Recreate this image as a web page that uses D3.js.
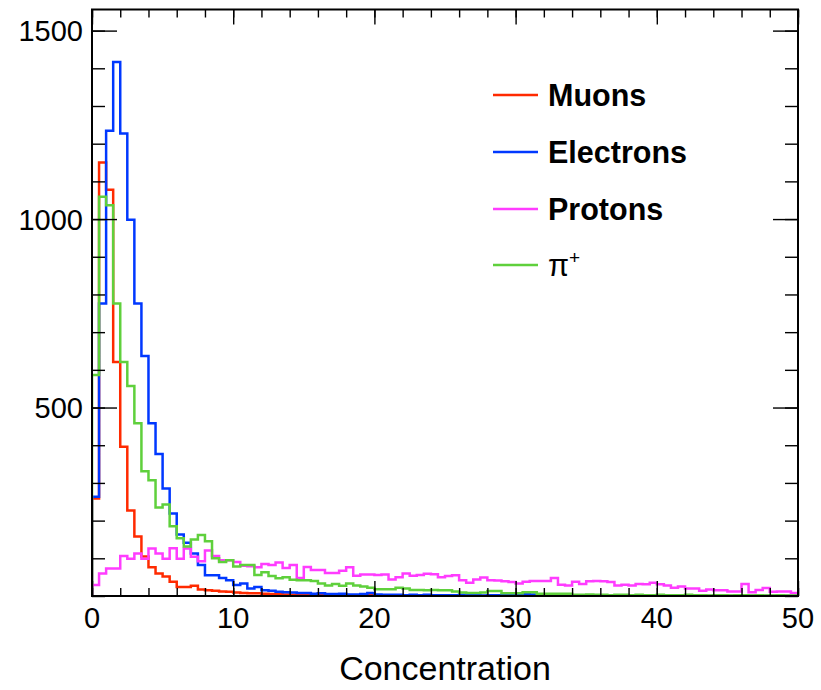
<!DOCTYPE html>
<html>
<head>
<meta charset="utf-8">
<script src="https://cdn.jsdelivr.net/npm/d3@7"></script>
<style>
  html, body { margin: 0; padding: 0; background: #ffffff; }
  svg { display: block; font-family: "Liberation Sans", Arial, Helvetica, sans-serif; }
</style>
</head>
<body>
<svg id="chart" width="821" height="690"></svg>
<script>
// Histogram binning: 100 bins of width 0.5 over [0, 50]
const binWidth = 0.5;
const xRange = [0, 50];
const yMax = 1556;

// Bin contents per particle species
const muons = [
  259, 1150, 1078, 621, 396, 227, 158, 105, 76, 60,
  52, 38, 24, 24, 27, 17, 15, 14, 12, 11,
  9, 8, 7, 7, 6, 5, 5, 4, 3, 4,
  2, 3, 6, 2, 1, 1, 1, 0, 1, 5,
  0, 1, 0, 0, 1, 0, 0, 0, 0, 0,
  0, 0, 0, 0, 0, 0, 0, 0, 0, 0,
  0, 0, 0, 0, 0, 0, 0, 0, 0, 0,
  0, 0, 0, 0, 0, 0, 0, 0, 0, 0,
  0, 0, 0, 0, 0, 0, 0, 0, 0, 0,
  0, 0, 0, 0, 0, 0, 0, 0, 0, 0
];
const electrons = [
  263, 776, 1234, 1417, 1227, 998, 776, 637, 458, 377,
  285, 219, 163, 141, 113, 82, 55, 55, 48, 42,
  29, 33, 20, 24, 15, 14, 11, 10, 9, 8,
  8, 6, 7, 5, 5, 6, 4, 4, 5, 8,
  4, 3, 3, 3, 2, 3, 2, 3, 2, 2,
  2, 2, 3, 2, 2, 1, 2, 2, 3, 2,
  3, 5, 4, 2, 2, 2, 2, 2, 0, 0,
  0, 0, 0, 0, 0, 0, 0, 0, 0, 0,
  0, 0, 0, 0, 0, 0, 0, 0, 0, 0,
  0, 0, 0, 0, 0, 0, 0, 0, 0, 0
];
const protons = [
  29, 60, 73, 73, 106, 99, 113, 99, 126, 113,
  99, 127, 99, 126, 104, 92, 121, 106, 95, 95,
  90, 80, 79, 76, 85, 82, 89, 74, 82, 48,
  77, 69, 69, 61, 61, 67, 76, 54, 57, 57,
  56, 57, 44, 50, 60, 54, 56, 59, 58, 50,
  53, 55, 42, 35, 44, 49, 42, 41, 39, 37,
  33, 38, 40, 40, 40, 48, 30, 28, 38, 32,
  39, 40, 39, 37, 28, 30, 28, 32, 31, 35,
  31, 28, 22, 25, 20, 20, 14, 17, 15, 15,
  12, 12, 32, 10, 16, 21, 11, 12, 12, 8
];
const pions = [
  586, 1059, 1037, 776, 621, 557, 458, 331, 307, 235,
  243, 185, 153, 131, 150, 162, 145, 100, 90, 95,
  78, 82, 82, 56, 63, 53, 47, 50, 43, 42,
  42, 40, 33, 28, 32, 27, 33, 28, 25, 22,
  18, 18, 18, 22, 20, 16, 16, 15, 16, 15,
  15, 12, 9, 8, 8, 9, 13, 13, 7, 7,
  7, 10, 10, 6, 6, 6, 6, 6, 3, 3,
  4, 3, 3, 2, 3, 3, 2, 3, 2, 2,
  3, 2, 2, 2, 3, 2, 2, 1, 2, 2,
  1, 2, 2, 1, 2, 1, 1, 2, 1, 1
];

const seriesNames = ["Muons", "Electrons", "Protons", "\u03c0+"];
const seriesColors = ["#ff2a00", "#0038ff", "#ff3cff", "#5fd03c"];
const seriesData = [muons, electrons, protons, pions];

const xTickValues = [0, 10, 20, 30, 40, 50];
const yTickValues = [500, 1000, 1500];
const xTitle = "Concentration";

// Layout
const frame = { left: 92, right: 798, top: 9.5, bottom: 596 };
const svg = d3.select("#chart");

const x = d3.scaleLinear().domain(xRange).range([frame.left, frame.right]);
const y = d3.scaleLinear().domain([0, yMax]).range([frame.bottom, frame.top]);

// Histogram outlines (step lines), drawn in legend order
const line = d3.line()
  .x(d => x(d[0]))
  .y(d => y(d[1]))
  .curve(d3.curveStepAfter);

svg.append("clipPath").attr("id", "plotClip")
  .append("rect")
  .attr("x", frame.left).attr("y", frame.top)
  .attr("width", frame.right - frame.left)
  .attr("height", frame.bottom - frame.top);

const plot = svg.append("g").attr("clip-path", "url(#plotClip)");

seriesData.forEach((vals, s) => {
  const pts = [[xRange[0], 0]];
  vals.forEach((v, i) => pts.push([xRange[0] + i * binWidth, v]));
  pts.push([xRange[1], vals[vals.length - 1]]);
  plot.append("path")
    .attr("d", line(pts))
    .attr("fill", "none")
    .attr("stroke", seriesColors[s])
    .attr("stroke-width", 2.5)
    .attr("stroke-linejoin", "miter");
});

// Axes with ticks on all four sides
const xMinor = d3.range(0, 50.001, 2);
const yMinor = d3.range(0, yMax, 100);

const axisStyle = g => {
  g.select(".domain").remove();
  g.selectAll("line").attr("stroke", "#000").attr("stroke-width", 1.4);
};

// bottom minor + major
svg.append("g").attr("transform", `translate(0,${frame.bottom})`)
  .call(d3.axisTop(x).tickValues(xMinor).tickSize(8).tickFormat(""))
  .call(axisStyle);
svg.append("g").attr("transform", `translate(0,${frame.bottom})`)
  .call(d3.axisTop(x).tickValues(xTickValues).tickSize(15).tickFormat(""))
  .call(axisStyle);
// top
svg.append("g").attr("transform", `translate(0,${frame.top})`)
  .call(d3.axisBottom(x).tickValues(xMinor).tickSize(8).tickFormat(""))
  .call(axisStyle);
svg.append("g").attr("transform", `translate(0,${frame.top})`)
  .call(d3.axisBottom(x).tickValues(xTickValues).tickSize(15).tickFormat(""))
  .call(axisStyle);
// left
svg.append("g").attr("transform", `translate(${frame.left},0)`)
  .call(d3.axisRight(y).tickValues(yMinor).tickSize(13).tickFormat(""))
  .call(axisStyle);
svg.append("g").attr("transform", `translate(${frame.left},0)`)
  .call(d3.axisRight(y).tickValues(yTickValues).tickSize(25).tickFormat(""))
  .call(axisStyle);
// right
svg.append("g").attr("transform", `translate(${frame.right},0)`)
  .call(d3.axisLeft(y).tickValues(yMinor).tickSize(13).tickFormat(""))
  .call(axisStyle);
svg.append("g").attr("transform", `translate(${frame.right},0)`)
  .call(d3.axisLeft(y).tickValues(yTickValues).tickSize(25).tickFormat(""))
  .call(axisStyle);

// Tick labels
svg.append("g").selectAll("text").data(xTickValues).join("text")
  .attr("x", d => x(d))
  .attr("y", 628)
  .attr("text-anchor", "middle")
  .attr("font-size", 29)
  .attr("fill", "#000")
  .text(d => d);

svg.append("g").selectAll("text").data(yTickValues).join("text")
  .attr("x", 83)
  .attr("y", d => y(d) + 10.5)
  .attr("text-anchor", "end")
  .attr("font-size", 29)
  .attr("fill", "#000")
  .text(d => d);

// Axis title
svg.append("text")
  .attr("x", (frame.left + frame.right) / 2)
  .attr("y", 680)
  .attr("text-anchor", "middle")
  .attr("font-size", 34)
  .attr("fill", "#000")
  .text(xTitle);

// Frame
svg.append("rect")
  .attr("x", frame.left).attr("y", frame.top)
  .attr("width", frame.right - frame.left)
  .attr("height", frame.bottom - frame.top)
  .attr("fill", "none")
  .attr("stroke", "#000")
  .attr("stroke-width", 2);

// Legend
const legend = svg.append("g");
const legendRowY = [95, 152, 209, 265];
seriesNames.forEach((name, i) => {
  const ly = legendRowY[i];
  legend.append("line")
    .attr("x1", 493).attr("x2", 538)
    .attr("y1", ly).attr("y2", ly)
    .attr("stroke", seriesColors[i])
    .attr("stroke-width", 2.5);
  const t = legend.append("text")
    .attr("x", 548)
    .attr("y", ly + 11)
    .attr("font-size", 30.5)
    .attr("fill", "#000");
  if (name.startsWith("\u03c0")) {
    t.append("tspan").text("\u03c0");
    t.append("tspan").attr("font-size", 19).attr("dy", -12).text("+");
  } else {
    t.attr("font-weight", "bold").text(name);
  }
});
</script>
</body>
</html>
